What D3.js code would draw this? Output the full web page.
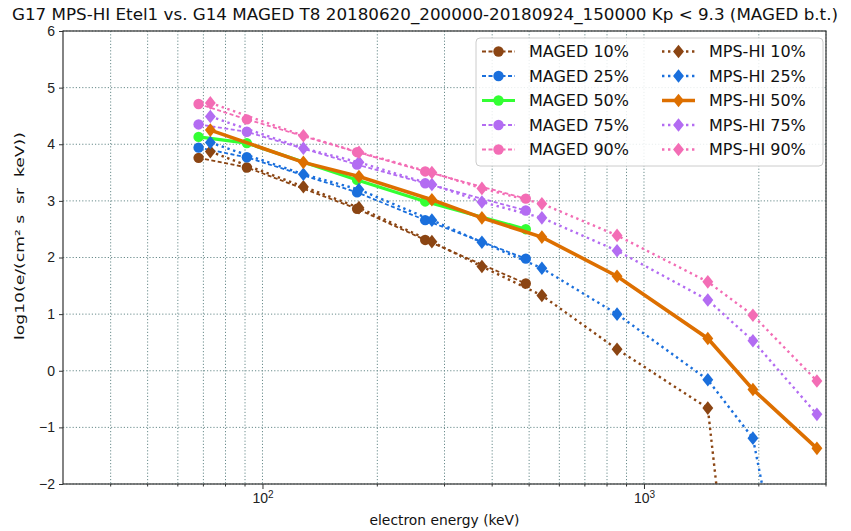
<!DOCTYPE html>
<html lang="en">
<head>
  <meta charset="UTF-8">
  <title>G17 MPS-HI vs. G14 MAGED</title>
  <script src="https://d3js.org/d3.v7.min.js"></script>
  <style>
    body { margin: 0; padding: 0; background: #fff; }
    svg { display: block; font-family: "DejaVu Sans", sans-serif; }
    .grid line { stroke: #6a8c8c; stroke-width: 1; stroke-dasharray: 1.2 2; }
    .axis path, .axis line { stroke: #333; }
    .axis text { font-size: 14px; fill: #222; }
  </style>
</head>
<body>
  <script>
    // energies (keV) and log10 flux percentiles
    const magedEnergy = [68, 91, 177, 267, 490];
    const maged10 = [3.76, 3.59, 2.86, 2.31, 1.54];
    const maged25 = [3.94, 3.77, 3.15, 2.66, 1.98];
    const maged50 = [4.13, 4.02, 3.37, 2.99, 2.50];
    const maged75 = [4.35, 4.22, 3.64, 3.31, 2.83];
    const maged90 = [4.71, 4.44, 3.86, 3.52, 3.04];

    const mpsEnergy = [73, 128, 179, 278, 376, 540, 850, 1470, 1930, 2840];
    const mps10 = [3.87, 3.25, 2.88, 2.28, 1.84, 1.33, 0.38, -0.66, -7.8, null];
    const mps25 = [4.03, 3.47, 3.20, 2.66, 2.27, 1.81, 1.00, -0.16, -1.19, -6.9];
    const mps50 = [4.25, 3.68, 3.43, 3.02, 2.70, 2.36, 1.67, 0.57, -0.33, -1.37];
    const mps75 = [4.49, 3.93, 3.68, 3.29, 2.98, 2.70, 2.12, 1.25, 0.53, -0.77];
    const mps90 = [4.73, 4.15, 3.86, 3.50, 3.22, 2.95, 2.39, 1.57, 0.98, -0.18];

    const yTicks = [-2, -1, 0, 1, 2, 3, 4, 5, 6];
    const xMajor = [100, 1000];
    const xMinor = [40, 50, 60, 70, 80, 90, 200, 300, 400, 500, 600, 700, 800, 900, 2000, 3000];

    const series = [
      { name: "MAGED 10%", x: magedEnergy, y: maged10, color: "#8b4513", dash: "4 2.5", lw: 1.8, marker: "circle" },
      { name: "MAGED 25%", x: magedEnergy, y: maged25, color: "#1a6fdc", dash: "4 2.5", lw: 1.8, marker: "circle" },
      { name: "MAGED 50%", x: magedEnergy, y: maged50, color: "#33ff33", dash: null, lw: 3.2, marker: "circle" },
      { name: "MAGED 75%", x: magedEnergy, y: maged75, color: "#b36cf2", dash: "4 2.5", lw: 1.8, marker: "circle" },
      { name: "MAGED 90%", x: magedEnergy, y: maged90, color: "#f36db5", dash: "4 2.5", lw: 1.8, marker: "circle" },
      { name: "MPS-HI 10%", x: mpsEnergy, y: mps10, color: "#8b4513", dash: "2.4 3.6", lw: 2.4, marker: "diamond" },
      { name: "MPS-HI 25%", x: mpsEnergy, y: mps25, color: "#1a6fdc", dash: "2.4 3.6", lw: 2.4, marker: "diamond" },
      { name: "MPS-HI 50%", x: mpsEnergy, y: mps50, color: "#dd6f00", dash: null, lw: 3.6, marker: "diamond" },
      { name: "MPS-HI 75%", x: mpsEnergy, y: mps75, color: "#b36cf2", dash: "2.4 3.6", lw: 2.4, marker: "diamond" },
      { name: "MPS-HI 90%", x: mpsEnergy, y: mps90, color: "#f36db5", dash: "2.4 3.6", lw: 2.4, marker: "diamond" }
    ];

    const W = 851, H = 531;
    const pl = 63, pr = 826, pt = 31, pb = 484;

    const svg = d3.select("body").append("svg").attr("width", W).attr("height", H);

    const x = d3.scaleLog().domain([30, 3000]).range([pl, pr]);
    const y = d3.scaleLinear().domain([-2, 6]).range([pb, pt]);

    svg.append("defs").append("clipPath").attr("id", "plot")
      .append("rect").attr("x", pl).attr("y", pt).attr("width", pr - pl).attr("height", pb - pt);

    // grid
    const grid = svg.append("g").attr("class", "grid");
    grid.selectAll("line.v").data(xMajor.concat(xMinor)).join("line").attr("class", "v")
      .attr("x1", d => x(d)).attr("x2", d => x(d)).attr("y1", pt).attr("y2", pb);
    grid.selectAll("line.h").data(yTicks).join("line").attr("class", "h")
      .attr("x1", pl).attr("x2", pr).attr("y1", d => y(d)).attr("y2", d => y(d));

    // series
    const diamond = s => `M0,${-s}L${s * 0.8},0L0,${s}L${-s * 0.8},0Z`;
    const line = d3.line().defined(d => d[1] != null).x(d => x(d[0])).y(d => y(d[1]));
    const plot = svg.append("g").attr("clip-path", "url(#plot)");

    series.forEach(s => {
      const pts = s.x.map((e, i) => [e, s.y[i]]);
      plot.append("path")
        .attr("d", line(pts))
        .attr("fill", "none")
        .attr("stroke", s.color)
        .attr("stroke-width", s.lw)
        .attr("stroke-dasharray", s.dash);
      const m = plot.append("g").selectAll("g")
        .data(pts.filter(d => d[1] != null)).join("g")
        .attr("transform", d => `translate(${x(d[0])},${y(d[1])})`);
      if (s.marker === "circle") m.append("circle").attr("r", 5.2).attr("fill", s.color);
      else m.append("path").attr("d", diamond(6.8)).attr("fill", s.color);
    });

    // axes
    const xAxis = svg.append("g").attr("class", "axis")
      .attr("transform", `translate(0,${pb})`)
      .call(d3.axisBottom(x).tickValues(xMajor).tickSize(5).tickPadding(4).tickFormat(""));
    xAxis.selectAll(".tick text").each(function (d) {
      const t = d3.select(this);
      t.append("tspan").text("10");
      t.append("tspan").attr("dy", "-0.45em").attr("font-size", "10px").text(Math.round(Math.log10(d)));
    });
    xAxis.append("g").selectAll("line").data(xMinor).join("line")
      .attr("x1", d => x(d)).attr("x2", d => x(d)).attr("y1", 0).attr("y2", 2.5).attr("stroke", "#333");
    xAxis.select(".domain").remove();

    const yAxis = svg.append("g").attr("class", "axis")
      .attr("transform", `translate(${pl},0)`)
      .call(d3.axisLeft(y).tickValues(yTicks).tickSize(4).tickPadding(4).tickFormat(d => d < 0 ? "\u2212" + Math.abs(d) : d));
    yAxis.select(".domain").remove();

    svg.append("rect")
      .attr("x", pl).attr("y", pt).attr("width", pr - pl).attr("height", pb - pt)
      .attr("fill", "none").attr("stroke", "#333").attr("stroke-width", 1.2);

    // labels
    svg.append("text")
      .attr("x", 425).attr("y", 20)
      .attr("text-anchor", "middle").attr("font-size", 16).attr("fill", "#111")
      .attr("textLength", 826).attr("lengthAdjust", "spacingAndGlyphs")
      .text("G17 MPS-HI Etel1 vs. G14 MAGED T8 20180620_200000-20180924_150000 Kp < 9.3 (MAGED b.t.)");

    svg.append("text")
      .attr("x", (pl + pr) / 2).attr("y", 525)
      .attr("text-anchor", "middle").attr("font-size", 14).attr("fill", "#111")
      .attr("textLength", 150).attr("lengthAdjust", "spacingAndGlyphs")
      .text("electron energy (keV)");

    svg.append("text")
      .attr("transform", "translate(24,236) rotate(-90)")
      .attr("text-anchor", "middle").attr("font-size", 13).attr("fill", "#111")
      .style("white-space", "pre")
      .attr("textLength", 208).attr("lengthAdjust", "spacingAndGlyphs")
      .text("log10(e/(cm\u00b2 s  sr  keV))");

    // legend
    const lg = svg.append("g");
    lg.append("rect")
      .attr("x", 476).attr("y", 38).attr("width", 347).attr("height", 128).attr("rx", 4)
      .attr("fill", "#fff").attr("fill-opacity", 0.85).attr("stroke", "#cccccc");

    series.forEach((s, i) => {
      const col = i < 5 ? 0 : 1;
      const row = i % 5;
      const x0 = col === 0 ? 482 : 662;
      const x1 = x0 + 33;
      const cy = 51.5 + row * 24.5;
      lg.append("line")
        .attr("x1", x0).attr("x2", x1).attr("y1", cy).attr("y2", cy)
        .attr("stroke", s.color).attr("stroke-width", s.lw).attr("stroke-dasharray", s.dash);
      if (s.marker === "circle") {
        lg.append("circle").attr("cx", (x0 + x1) / 2).attr("cy", cy).attr("r", 5.2).attr("fill", s.color);
      } else {
        lg.append("path").attr("transform", `translate(${(x0 + x1) / 2},${cy})`)
          .attr("d", diamond(6.8)).attr("fill", s.color);
      }
      lg.append("text")
        .attr("x", col === 0 ? 529 : 709).attr("y", cy).attr("dy", "0.36em")
        .attr("font-size", 16).attr("fill", "#111")
        .text(s.name);
    });
  </script>
</body>
</html>
